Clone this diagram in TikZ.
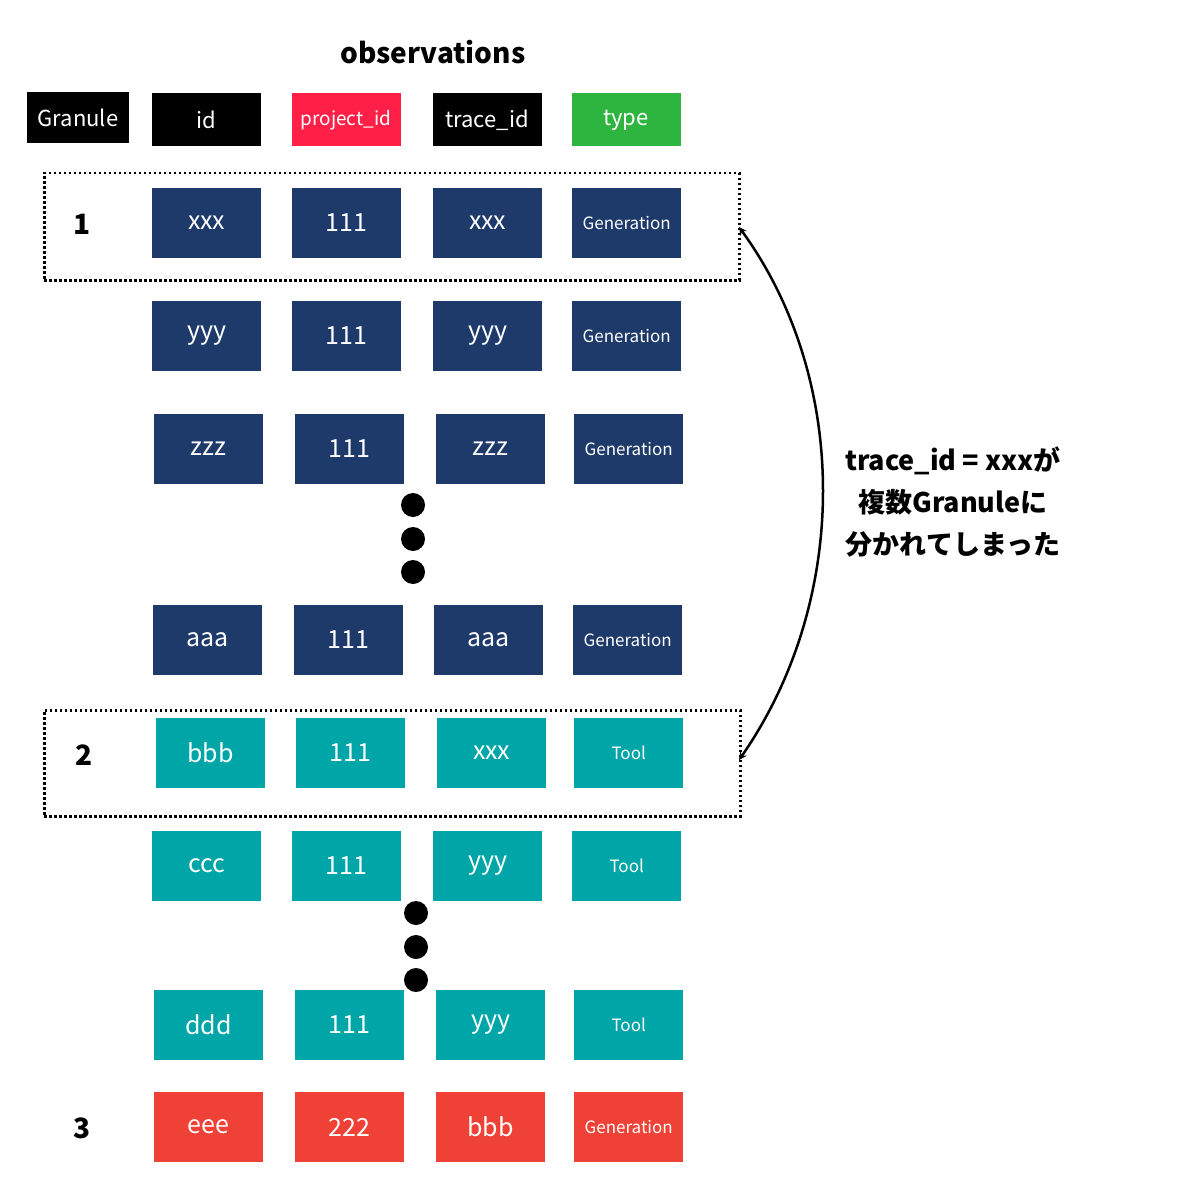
\documentclass[tikz,border=0pt]{standalone}
\usepackage{fontspec}
\setmainfont{Noto Sans CJK JP}
\begin{document}
\begin{tikzpicture}[x=1pt,y=-1pt,
 cell/.style={minimum width=109pt,minimum height=70pt,inner sep=0pt,text=white,font=\fontsize{25}{28}\selectfont},
 small/.style={font=\fontsize{17}{20}\selectfont},
 hdr/.style={minimum width=109pt,minimum height=53pt,inner sep=0pt,text=white,font=\fontsize{22}{26}\selectfont},
 nv/.style={cell,fill={rgb,255:red,30;green,58;blue,107}},
 tl/.style={cell,fill={rgb,255:red,0;green,165;blue,168}},
 rd/.style={cell,fill={rgb,255:red,239;green,65;blue,54}},
 dotc/.style={circle,fill=black,minimum size=24pt,inner sep=0pt},
 grp/.style={draw,line width=2.5pt,dash pattern=on 2.5pt off 2.5pt},
 lbl/.style={font=\bfseries\fontsize{28}{30}\selectfont}]
\useasboundingbox (0,0) rectangle (1188,1177);
\node[font=\bfseries\fontsize{28}{30}\selectfont] (title) at (433,52) {observations};
\node[hdr,fill=black,minimum width=102pt,minimum height=51pt] (hg) at (78,118) {Granule};
\node[hdr,fill=black] (hid) at (206,120) {id};
\node[hdr,fill={rgb,255:red,255;green,31;blue,71},font=\fontsize{19}{22}\selectfont] (hp) at (346,120) {project\_id};
\node[hdr,fill=black] (ht) at (487,120) {trace\_id};
\node[hdr,fill={rgb,255:red,45;green,181;blue,63}] (hy) at (626,120) {type};
% rows
\foreach \n/\y/\a/\b/\c/\d/\s/\t/\x in {
 r1/223/152/292/433/572/nv/Generation/xxx,
 r2/336/152/292/433/572/nv/Generation/yyy,
 r3/449/154/295/436/574/nv/Generation/zzz,
 r4/640/153/294/434/573/nv/Generation/aaa}{
 \node[\s,anchor=west] (\n a) at (\a,\y) {\x};
 \node[\s,anchor=west] (\n b) at (\b,\y) {111};
 \node[\s,anchor=west] (\n c) at (\c,\y) {\x};
 \node[\s,small,anchor=west] (\n d) at (\d,\y) {\t};
}
\node[tl,anchor=west] (r5a) at (156,753) {bbb};
\node[tl,anchor=west] (r5b) at (296,753) {111};
\node[tl,anchor=west] (r5c) at (437,753) {xxx};
\node[tl,small,anchor=west] (r5d) at (574,753) {Tool};
\node[tl,anchor=west] (r6a) at (152,866) {ccc};
\node[tl,anchor=west] (r6b) at (292,866) {111};
\node[tl,anchor=west] (r6c) at (433,866) {yyy};
\node[tl,small,anchor=west] (r6d) at (572,866) {Tool};
\node[tl,anchor=west] (r7a) at (154,1025) {ddd};
\node[tl,anchor=west] (r7b) at (295,1025) {111};
\node[tl,anchor=west] (r7c) at (436,1025) {yyy};
\node[tl,small,anchor=west] (r7d) at (574,1025) {Tool};
\node[rd,anchor=west] (r8a) at (154,1127) {eee};
\node[rd,anchor=west] (r8b) at (295,1127) {222};
\node[rd,anchor=west] (r8c) at (436,1127) {bbb};
\node[rd,small,anchor=west] (r8d) at (574,1127) {Generation};
% dots
\node[dotc] (d1) at (413,505) {};
\node[dotc] (d2) at (413,539) {};
\node[dotc] (d3) at (413,572) {};
\node[dotc] (d4) at (416,913) {};
\node[dotc] (d5) at (416,947) {};
\node[dotc] (d6) at (416,980) {};
% groups
\node[grp,minimum width=695pt,minimum height=107pt,anchor=north west] (g1) at (43,172) {};
\node[grp,minimum width=696pt,minimum height=106pt,anchor=north west] (g2) at (43,709) {};
\node[lbl] (l1) at (82,224) {1};
\node[lbl] (l2) at (84,755) {2};
\node[lbl] (l3) at (82,1128) {3};
% arrow
\coordinate (p1) at (739,227);
\coordinate (p2) at (739,760);
\draw[line width=2.5pt,<->,>=stealth] (p1) .. controls (850,380) and (850,600) .. (p2);
\node[font=\bfseries\fontsize{27}{42}\selectfont,align=center] (note) at (953,502) {trace\_id = xxxが\\複数Granuleに\\分かれてしまった};
\end{tikzpicture}
\end{document}
